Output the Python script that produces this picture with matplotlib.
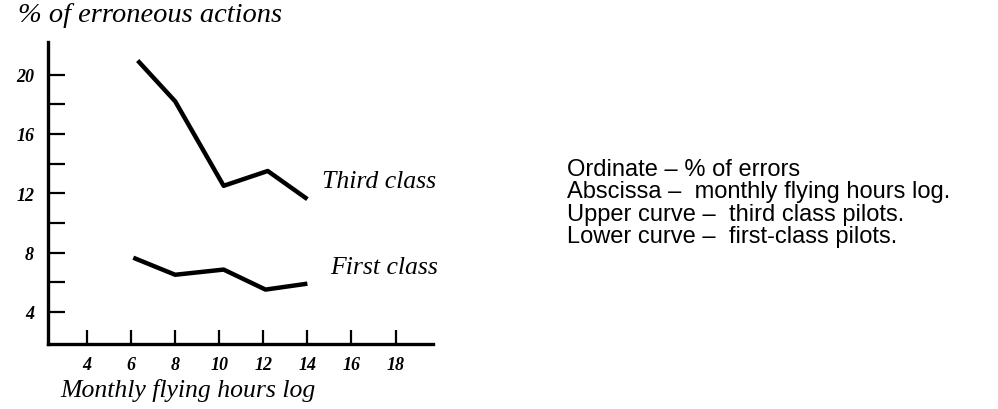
import matplotlib
matplotlib.use("Agg")
import matplotlib.pyplot as plt

# Data
x_third = [6.3, 8.0, 10.2, 12.2, 14.0]
y_third = [20.95, 18.2, 12.5, 13.5, 11.6]
x_first = [6.1, 8.0, 10.2, 12.1, 14.0]
y_first = [7.65, 6.5, 6.85, 5.5, 5.9]

x_ticks = [4, 6, 8, 10, 12, 14, 16, 18]
x_ticklabels = ["4", "6", "8", "10", "12", "14", "16", "18"]
y_major = [4, 8, 12, 16, 20]
y_major_labels = ["4", "8", "12", "16", "20"]
y_minor = [6, 10, 14, 18]

notes = ["Ordinate \u2013 % of errors",
         "Abscissa \u2013  monthly flying hours log.",
         "Upper curve \u2013  third class pilots.",
         "Lower curve \u2013  first-class pilots."]

W, H = 998, 410
fig = plt.figure(figsize=(W / 100, H / 100), dpi=100)
fig.patch.set_facecolor("white")

left, right, top, bottom = 48, 433, 43, 345
ax = fig.add_axes([left / W, 1 - bottom / H, (right - left) / W, (bottom - top) / H])
ax.set_xlim(2.23, 19.7)
ax.set_ylim(1.83, 22.2)

ax.plot(x_third, y_third, color="black", lw=3.2, solid_capstyle="butt")
ax.plot(x_first, y_first, color="black", lw=3.2, solid_capstyle="butt")

for s in ["top", "right"]:
    ax.spines[s].set_visible(False)
for s in ["left", "bottom"]:
    ax.spines[s].set_linewidth(2.4)

serif = "Liberation Serif"
ax.set_xticks(x_ticks)
ax.set_xticklabels(x_ticklabels, fontfamily=serif, fontstyle="italic",
                   fontweight="bold", fontsize=13)
ax.set_yticks(y_major)
ax.set_yticklabels(y_major_labels, fontfamily=serif, fontstyle="italic",
                   fontweight="bold", fontsize=13)
ax.set_yticks(y_minor, minor=True)
ax.tick_params(axis="x", direction="in", length=10, width=1.6, pad=9)
ax.tick_params(axis="y", which="both", direction="in", length=12, width=1.6, pad=10)

ax.text(14.65, 12.85, "Third class", fontfamily=serif, fontstyle="italic",
        fontsize=18.5, ha="left", va="center")
ax.text(15.05, 7.05, "First class", fontfamily=serif, fontstyle="italic",
        fontsize=18.5, ha="left", va="center")

fig.text(18 / W, 1 - 16 / H, "% of erroneous actions", fontfamily=serif,
         fontstyle="italic", fontsize=20.5, ha="left", va="center")
fig.text(60 / W, 1 - 391 / H, "Monthly flying hours log", fontfamily=serif,
         fontstyle="italic", fontsize=18.5, ha="left", va="center")

baselines = [176, 198.5, 221, 243.5]
for t, yy in zip(notes, baselines):
    fig.text(567 / W, 1 - yy / H, t, fontfamily="Liberation Sans",
             fontsize=17, ha="left", va="baseline")

fig.savefig("out.png", dpi=100)
